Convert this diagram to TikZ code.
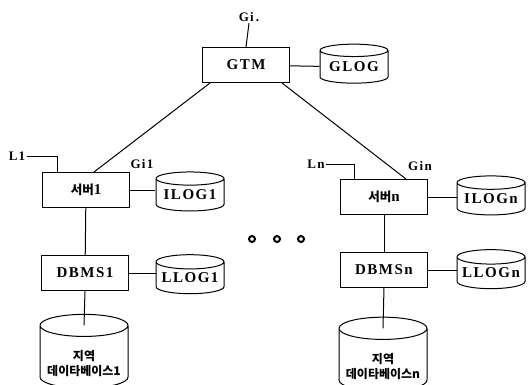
\documentclass[tikz,border=0pt]{standalone}
\usepackage{fontspec}
\setmainfont{Liberation Serif}[LetterSpace=10]
\newfontfamily\kr{Noto Sans CJK KR}
\usetikzlibrary{shapes.geometric,calc}

\begin{document}
\begin{tikzpicture}[x=1pt,y=-1pt,line width=1pt,
    box/.style={draw,rectangle,minimum width=87pt,minimum height=35pt,font=\bfseries\fontsize{15}{16}\selectfont},
    logdb/.style={draw,cylinder,shape border rotate=90,aspect=0.25,minimum width=68pt,minimum height=39pt,inner sep=0pt,font=\bfseries\fontsize{15}{16}\selectfont},
    localdb/.style={draw,cylinder,shape border rotate=90,aspect=0.3,minimum width=88pt,minimum height=61pt,inner sep=0pt,align=center,font=\kr\bfseries\fontsize{12}{15}\selectfont},
    tag/.style={font=\bfseries\fontsize{13}{14}\selectfont,inner sep=1pt},
    dot/.style={draw,circle,minimum size=6pt,inner sep=0pt,line width=2pt}]

    \useasboundingbox (0,0) rectangle (528,384);

    % global level
    \node [box] (gtm) at (246,65) {GTM};
    \node [logdb] (glog) at (354,67) {GLOG};
    \node [tag] (gi) at (249,17) {Gi\,.};

    % site 1
    \node [box] (srv1) at (86,190) {{\kr\fontsize{12.5}{14}\selectfont 서버}1};
    \node [logdb] (ilog1) at (190,195) {ILOG1};
    \node [box] (dbms1) at (85,273) {DBMS1};
    \node [logdb] (llog1) at (190,278) {LLOG1};
    \node [localdb] (db1) at (84,357) {\rule{0pt}{24pt}지역\\데이타베이스1};
    \node [tag] (l1) at (17,156) {L1};
    \node [tag] (gi1) at (142,164) {Gi1};

    % site n
    \node [box] (srvn) at (384,197) {{\kr\fontsize{12.5}{14}\selectfont 서버}n};
    \node [logdb] (ilogn) at (491,199) {ILOGn};
    \node [box] (dbmsn) at (384,270) {DBMSn};
    \node [logdb] (llogn) at (491,273) {LLOGn};
    \node [localdb] (dbn) at (383,360) {\rule{0pt}{24pt}지역\\데이타베이스n};
    \node [tag] (ln) at (316,164) {Ln};
    \node [tag] (gin) at (420,166) {Gin};

    % dots between sites
    \foreach \x [count=\i] in {252,277,301}
        \node [dot] (dot\i) at (\x,239) {};

    % connectors
    \draw (gtm.north) -- (gi.south);
    \draw (gtm) -- (glog);
    \draw ([xshift=8pt]gtm.south west) -- ([xshift=52pt]srv1.north west);
    \draw ([xshift=-8pt]gtm.south east) -- ([xshift=-22pt]srvn.north east);

    \draw (srv1) -- (ilog1.west |- srv1);
    \draw (dbms1) -- (llog1.west |- dbms1);
    \draw (srv1) -- (dbms1);
    \draw (dbms1.south) -- ($(db1.before top)!.5!(db1.after top)$);
    \draw (l1.east) -| ([xshift=15pt]srv1.north west);

    \draw (srvn) -- (ilogn.west |- srvn);
    \draw (dbmsn) -- (llogn.west |- dbmsn);
    \draw (srvn) -- (dbmsn);
    \draw (dbmsn.south) -- ($(dbn.before top)!.5!(dbn.after top)$);
    \draw (ln.east) -| ([xshift=14pt]srvn.north west);

\end{tikzpicture}
\end{document}
